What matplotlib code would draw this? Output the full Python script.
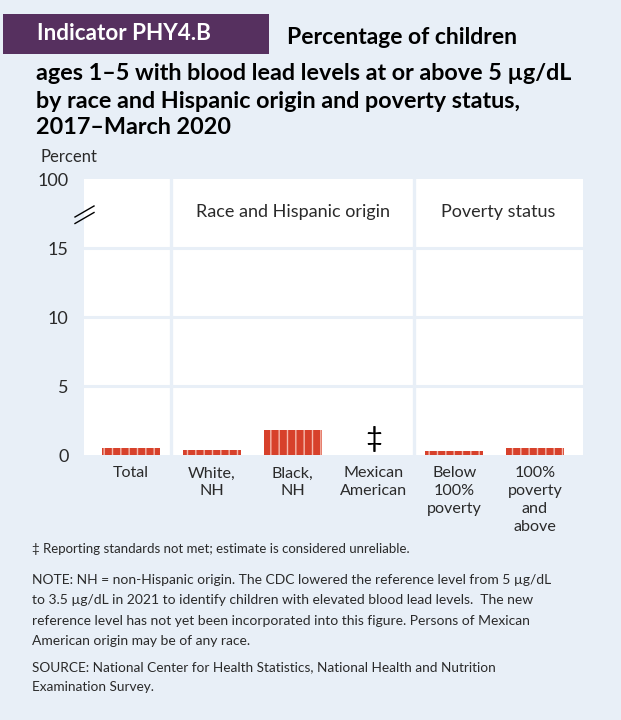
import matplotlib
matplotlib.use("Agg")
import matplotlib.pyplot as plt
from matplotlib.patches import Rectangle
from matplotlib.lines import Line2D

# ---------------- data ----------------
categories = ["Total", "White,\nNH", "Black,\nNH", "Mexican\nAmerican",
              "Below\n100%\npoverty", "100%\npoverty\nand\nabove"]
values = [0.5, 0.4, 1.8, None, 0.3, 0.5]   # None = reporting standards not met
ytick_values = [0, 5, 10, 15, 20]
ytick_labels = ["0", "5", "10", "15", "100"]
group_labels = ["Race and Hispanic origin", "Poverty status"]

# ---------------- style ----------------
BG = "#e8eff7"
BAR = "#d7412b"
STRIPE = "#f5b9ad"
PURPLE = "#56305f"
TXT = "#2a2a2a"
FONT = ["Lato", "DejaVu Sans"]
plt.rcParams["font.family"] = FONT
plt.rcParams["hatch.linewidth"] = 1.0

W, H = 621, 720
fig = plt.figure(figsize=(W / 100, H / 100), dpi=100, facecolor=BG)


def fx(px):
    return px / W


def fy(py):
    return 1 - py / H


# header box
fig.patches.append(Rectangle((fx(3), fy(54)), fx(269) - fx(3), fy(14) - fy(54),
                             transform=fig.transFigure, facecolor=PURPLE,
                             edgecolor="none", zorder=0))
fig.text(fx(37), fy(34), "Indicator PHY4.B", color="white", fontsize=16.2,
         fontweight="bold", va="center", ha="left")
fig.text(fx(287), fy(37), "Percentage of children", color="black", fontsize=16.5,
         fontweight="bold", va="center", ha="left")
title_lines = ["ages 1\u20135 with blood lead levels at or above 5 \u00b5g/dL",
               "by race and Hispanic origin and poverty status,",
               "2017\u2013March 2020"]
for i, t in enumerate(title_lines):
    fig.text(fx(36), fy(74 + 27 * i), t, color="black", fontsize=16.8,
             fontweight="bold", va="center", ha="left")

# ---------------- axes ----------------
ax = fig.add_axes([fx(84), fy(455.3), fx(583) - fx(84), fy(179) - fy(455.3)])
ax.set_facecolor("white")
ax.set_xlim(-0.58, 5.594)
ax.set_ylim(0, 20)

x = list(range(len(categories)))
for xi, v in zip(x, values):
    if v is None:
        ax.text(xi, 0.25, "\u2021", ha="center", va="bottom", fontsize=21,
                color="black", family=FONT)
    else:
        ax.bar(xi, v, width=0.718, color=BAR, edgecolor=STRIPE,
               linewidth=0, hatch="||", zorder=3)

for yv in [5, 10, 15]:
    ax.axhline(yv, color=BG, lw=2.2, zorder=1)
for xv in [0.5, 3.5]:
    ax.axvline(xv, color=BG, lw=2.4, zorder=1)

for sp in ax.spines.values():
    sp.set_visible(False)

ax.set_yticks(ytick_values)
ax.set_yticklabels(ytick_labels, fontsize=13, color=TXT)
ax.set_xticks(x)
ax.set_xticklabels(categories, fontsize=11.6, color=TXT, linespacing=1.34,
                   va="top")
ax.tick_params(axis="both", length=0)
ax.tick_params(axis="y", pad=11)
ax.tick_params(axis="x", pad=8)

ax.text((0.5 + 3.5) / 2, 17.6, group_labels[0], ha="center", va="center",
        fontsize=13, color=TXT)
ax.text((3.5 + 5.594) / 2, 17.6, group_labels[1], ha="center", va="center",
        fontsize=13, color=TXT)

fig.text(fx(40), fy(157), "Percent", fontsize=12, color=TXT, va="center",
         ha="left")

# axis break mark
for dy in (0, 6.5):
    fig.add_artist(Line2D([fx(75), fx(94)], [fy(217 + dy), fy(206 + dy)],
                          transform=fig.transFigure, color="black", lw=1.0))

# ---------------- notes ----------------
fig.text(fx(32), fy(549), "\u2021 Reporting standards not met; estimate is considered unreliable.",
         fontsize=9.5, color=TXT, va="center", ha="left")
note = ["NOTE: NH = non-Hispanic origin. The CDC lowered the reference level from 5 \u00b5g/dL",
        "to 3.5 \u00b5g/dL in 2021 to identify children with elevated blood lead levels.  The new",
        "reference level has not yet been incorporated into this figure. Persons of Mexican",
        "American origin may be of any race."]
for i, t in enumerate(note):
    fig.text(fx(32), fy(580 + 20.3 * i), t, fontsize=10.0, color=TXT,
             va="center", ha="left")
source = ["SOURCE: National Center for Health Statistics, National Health and Nutrition",
          "Examination Survey."]
for i, t in enumerate(source):
    fig.text(fx(32), fy(667 + 20.3 * i), t, fontsize=9.8, color=TXT,
             va="center", ha="left")

fig.savefig("out.png", dpi=100, facecolor=BG)
